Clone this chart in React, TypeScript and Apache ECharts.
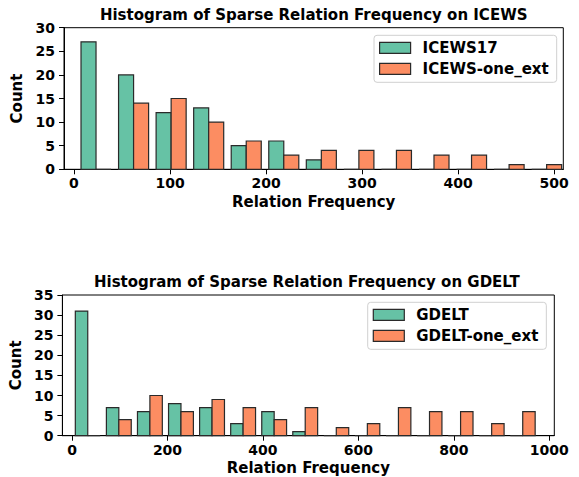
import React, { useEffect, useRef } from "react";
import * as echarts from "echarts";

// ---- Data ----
const icewsEdges = [3.4, 42.5, 81.6, 120.7, 159.8, 198.9, 238.0, 277.1, 316.2, 355.3, 394.4, 433.5, 472.6, 511.7];
const icews17Counts = [27, 20, 12, 13, 5, 6, 2, 0, 0, 0, 0, 0, 0];
const icewsOneExtCounts = [0, 14, 15, 10, 6, 3, 4, 4, 4, 3, 3, 1, 1];
const icewsXTicks = [0, 100, 200, 300, 400, 500];

const gdeltEdges = [0.4, 65.5, 130.6, 195.7, 260.8, 325.9, 391.0, 456.0, 521.1, 586.2, 651.3, 716.4, 781.5, 846.6, 911.7, 976.8];
const gdeltCounts = [31, 7, 6, 8, 7, 3, 6, 1, 0, 0, 0, 0, 0, 0, 0];
const gdeltOneExtCounts = [0, 4, 10, 6, 9, 7, 4, 7, 2, 3, 7, 6, 6, 3, 6];
const gdeltXTicks = [0, 200, 400, 600, 800, 1000];

const GREEN = "#66c2a5";
const ORANGE = "#fc8d62";
const EDGE = "#2a2a2a";
const FONT = "DejaVu Sans";

function binData(edges: number[], counts: number[]) {
  return counts.map((c, i) => [edges[i], edges[i + 1], c]);
}

function histSeries(name: string, edges: number[], counts: number[], slot: number, color: string, axisIdx: number) {
  return {
    type: "custom",
    name,
    xAxisIndex: axisIdx,
    yAxisIndex: axisIdx,
    clip: false,
    itemStyle: { color, borderColor: EDGE, borderWidth: 1.2 },
    encode: { x: [0, 1], y: 2 },
    data: binData(edges, counts),
    renderItem: (params: any, api: any) => {
      const start = api.value(0);
      const end = api.value(1);
      const count = api.value(2);
      const w = end - start;
      const x0 = start + 0.1 * w + slot * 0.4 * w;
      const p0 = api.coord([x0, count]);
      const p1 = api.coord([x0 + 0.4 * w, 0]);
      return {
        type: "rect",
        shape: { x: p0[0], y: p0[1], width: p1[0] - p0[0], height: p1[1] - p0[1] },
        style: { fill: color, stroke: EDGE, lineWidth: 1.2 },
      };
    },
  };
}

const tickLabel = { fontFamily: FONT, fontWeight: "bold", fontSize: 14, color: "#000" };
const nameStyle = { fontFamily: FONT, fontWeight: "bold", fontSize: 15, color: "#000" };

function xAxis(gridIndex: number, min: number, max: number, ticks: number[]) {
  return {
    type: "value",
    gridIndex,
    min,
    max,
    name: "Relation Frequency",
    nameLocation: "middle",
    nameGap: 25,
    nameTextStyle: nameStyle,
    axisLine: { show: true, onZero: false, lineStyle: { color: "#000", width: 1 } },
    axisTick: { show: true, length: 5, lineStyle: { color: "#000" }, customValues: ticks },
    axisLabel: { ...tickLabel, margin: 7, customValues: ticks, formatter: (v: number) => String(v) },
    splitLine: { show: false },
  };
}

function yAxis(gridIndex: number, max: number) {
  return {
    type: "value",
    gridIndex,
    min: 0,
    max,
    interval: 5,
    name: "Count",
    nameLocation: "middle",
    nameGap: 30,
    nameRotate: 90,
    nameTextStyle: nameStyle,
    axisLine: { show: true, onZero: false, lineStyle: { color: "#000", width: 1 } },
    axisTick: { show: true, length: 5, lineStyle: { color: "#000" } },
    axisLabel: { ...tickLabel, margin: 9 },
    splitLine: { show: false },
  };
}

function legend(left: number, top: number, names: string[]) {
  return {
    orient: "vertical",
    left,
    top,
    icon: "rect",
    itemWidth: 31,
    itemHeight: 11,
    itemGap: 6,
    padding: [5, 8, 6, 5],
    backgroundColor: "rgba(255,255,255,0.8)",
    borderColor: "#d0d0d0",
    borderWidth: 1,
    borderRadius: 3,
    textStyle: { fontFamily: FONT, fontWeight: "bold", fontSize: 15, color: "#000", padding: [0, 0, 0, 7] },
    data: [
      { name: names[0], itemStyle: { color: GREEN, borderColor: EDGE, borderWidth: 1.2 } },
      { name: names[1], itemStyle: { color: ORANGE, borderColor: EDGE, borderWidth: 1.2 } },
    ],
  };
}

export default function App() {
  const ref = useRef<HTMLDivElement>(null);
  useEffect(() => {
    document.body.style.margin = "0";
    const chart = echarts.init(ref.current!, undefined, { renderer: "svg" });
    chart.setOption({
      animation: false,
      backgroundColor: "#fff",
      grid: [
        { left: 64, right: 15.7, top: 27.7, bottom: 307.7, show: true, borderColor: "#000", borderWidth: 1, backgroundColor: "transparent" },
        { left: 59.3, right: 24.7, top: 295, bottom: 41.3, show: true, borderColor: "#000", borderWidth: 1, backgroundColor: "transparent" },
      ],
      xAxis: [xAxis(0, -10.4, 509.5, icewsXTicks), xAxis(1, -20.2, 1010.4, gdeltXTicks)],
      yAxis: [yAxis(0, 30), yAxis(1, 35)],
      legend: [legend(374, 35.3, ["ICEWS17", "ICEWS-one_ext"]), legend(367.7, 302.3, ["GDELT", "GDELT-one_ext"])],
      graphic: [
        {
          type: "text",
          x: 313.7,
          y: 15,
          style: { text: "Histogram of Sparse Relation Frequency on ICEWS", align: "center", verticalAlign: "middle", fontFamily: FONT, fontWeight: "bold", fontSize: 15, fill: "#000" },
        },
        {
          type: "text",
          x: 306.8,
          y: 281.7,
          style: { text: "Histogram of Sparse Relation Frequency on GDELT", align: "center", verticalAlign: "middle", fontFamily: FONT, fontWeight: "bold", fontSize: 15, fill: "#000" },
        },
      ],
      series: [
        histSeries("ICEWS17", icewsEdges, icews17Counts, 0, GREEN, 0),
        histSeries("ICEWS-one_ext", icewsEdges, icewsOneExtCounts, 1, ORANGE, 0),
        histSeries("GDELT", gdeltEdges, gdeltCounts, 0, GREEN, 1),
        histSeries("GDELT-one_ext", gdeltEdges, gdeltOneExtCounts, 1, ORANGE, 1),
      ],
    });
    return () => chart.dispose();
  }, []);
  return <div ref={ref} style={{ width: 579, height: 477, position: "absolute", left: 0, top: 0 }} />;
}
